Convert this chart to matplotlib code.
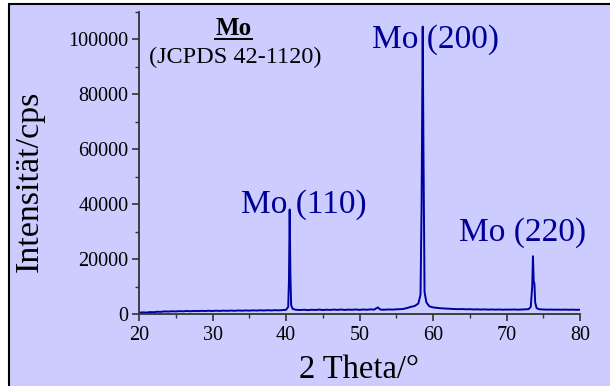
import matplotlib.pyplot as plt
import matplotlib.patches as mpatches
from matplotlib.lines import Line2D
from matplotlib.ticker import MultipleLocator

plt.rcParams['font.family'] = ['Liberation Serif', 'DejaVu Serif']

BG = '#ccccff'
LINE = '#0000a0'
LABEL_C = '#000099'

# XRD scan: 2θ (deg) and counts (cps)
two_theta = [
    20.0, 20.5, 21.0, 21.5, 22.0, 22.5, 23.0, 23.5, 24.0, 24.5,
    25.0, 25.5, 26.0, 26.5, 27.0, 27.5, 28.0, 28.5, 29.0, 29.5,
    30.0, 30.5, 31.0, 31.5, 32.0, 32.5, 33.0, 33.5, 34.0, 34.5,
    35.0, 35.5, 36.0, 36.5, 37.0, 37.5, 38.0, 38.5, 39.0, 39.5,
    40.0, 40.3, 40.4, 40.5, 40.6, 40.7, 40.9, 41.2, 41.5, 42.0,
    42.5, 43.0, 43.5, 44.0, 44.5, 45.0, 45.5, 46.0, 46.5, 47.0,
    47.5, 48.0, 48.5, 49.0, 49.5, 50.0, 50.5, 51.0, 51.5, 52.0,
    52.5, 52.8, 53.2, 53.5, 54.0, 54.5, 55.0, 55.5, 56.0, 56.5,
    57.0, 57.5, 58.0, 58.3, 58.45, 58.6, 58.7, 58.85, 59.1, 59.5,
    60.0, 60.5, 61.0, 61.5, 62.0, 62.5, 63.0, 63.5, 64.0, 64.5,
    65.0, 65.5, 66.0, 66.5, 67.0, 67.5, 68.0, 68.5, 69.0, 69.5,
    70.0, 70.5, 71.0, 71.5, 72.0, 72.5, 73.0, 73.3, 73.5, 73.6,
    73.7, 73.8, 73.9, 74.1, 74.5, 75.0, 75.5, 76.0, 76.5, 77.0,
    77.5, 78.0, 78.5, 79.0, 79.5, 80.0,
]
counts = [
    450, 600, 520, 700, 650, 820, 780, 950, 880, 1000,
    930, 1050, 980, 1100, 1000, 1120, 1050, 1150, 1080, 1180,
    1100, 1200, 1130, 1220, 1150, 1250, 1160, 1280, 1200, 1300,
    1230, 1320, 1250, 1350, 1280, 1370, 1300, 1400, 1330, 1420,
    1500, 2600, 12000, 38000, 14000, 3200, 1900, 1600, 1500, 1450,
    1550, 1400, 1550, 1450, 1600, 1450, 1550, 1480, 1600, 1500,
    1620, 1480, 1600, 1520, 1650, 1500, 1620, 1550, 1680, 1600,
    2400, 1650, 1550, 1600, 1650, 1600, 1700, 1750, 1850, 2200,
    2600, 2900, 3800, 7000, 40000, 104500, 60000, 8000, 4200, 2800,
    2400, 2250, 2100, 2000, 1950, 1850, 1800, 1750, 1800, 1700,
    1750, 1650, 1700, 1620, 1680, 1600, 1650, 1580, 1640, 1560,
    1620, 1580, 1640, 1570, 1620, 1650, 1750, 2600, 10000, 21000,
    12000, 11000, 4200, 2100, 1700, 1650, 1580, 1620, 1560, 1600,
    1550, 1600, 1540, 1580, 1520, 1560,
]

# peak labels: (text, 2θ centre, baseline height)
peak_labels = ['Mo (110)', 'Mo (200)', 'Mo (220)']
peak_label_x = [42.4, 60.4, 72.25]
peak_label_y = [36700, 96700, 26700]

fig = plt.figure(figsize=(6.1, 3.86), dpi=100, facecolor='white')

# lavender panel with a black frame (only the left/top edges fall inside)
frame = mpatches.Rectangle((9 / 610, -0.05), 1.2, (386 - 4.3) / 386 + 0.05,
                           transform=fig.transFigure, facecolor=BG,
                           edgecolor='black', linewidth=1.5, zorder=-10)
fig.patches.append(frame)

ax = fig.add_axes([139 / 610, 72 / 386, 441 / 610, 302.5 / 386])
ax.set_facecolor('none')
ax.plot(two_theta, counts, color=LINE, linewidth=1.4)

ax.set_xlim(20, 80)
ax.set_ylim(0, 110000)
ax.xaxis.set_major_locator(MultipleLocator(10))
ax.xaxis.set_minor_locator(MultipleLocator(5))
ax.yaxis.set_major_locator(MultipleLocator(20000))
ax.yaxis.set_minor_locator(MultipleLocator(10000))
for s in ('top', 'right'):
    ax.spines[s].set_visible(False)
for s in ('left', 'bottom'):
    ax.spines[s].set_color('#333333')
    ax.spines[s].set_linewidth(1.3)
ax.tick_params(which='major', length=5, width=1.2, color='#333333',
               labelsize=14.5, pad=2.5)
ax.tick_params(axis='x', which='major', pad=3.5)
ax.tick_params(which='minor', length=3, width=1.0, color='#333333')

for txt, x, y in zip(peak_labels, peak_label_x, peak_label_y):
    ax.text(x, y, txt, ha='center', va='baseline', fontsize=24,
            color=LABEL_C)

# reference card note, top left
fig.text(233.5 / 610, 1 - 35 / 386, 'Mo', ha='center', va='baseline',
         fontsize=18, fontweight='bold', color='black')
fig.add_artist(Line2D([215 / 610, 252 / 610], [1 - 38.5 / 386] * 2,
                      transform=fig.transFigure, color='black', linewidth=1.4))
fig.text(235 / 610, 1 - 63 / 386, '(JCPDS 42-1120)', ha='center',
         va='baseline', fontsize=17.5, color='black')

fig.text(30 / 610, 1 - 181 / 386, 'Intensität/cps', rotation=90,
         ha='center', va='center', fontsize=24.5)
fig.text(359 / 610, 8 / 386, '2 Theta/°', ha='center', va='baseline',
         fontsize=23.5)

fig.savefig('out.png', dpi=100, facecolor=fig.get_facecolor())
